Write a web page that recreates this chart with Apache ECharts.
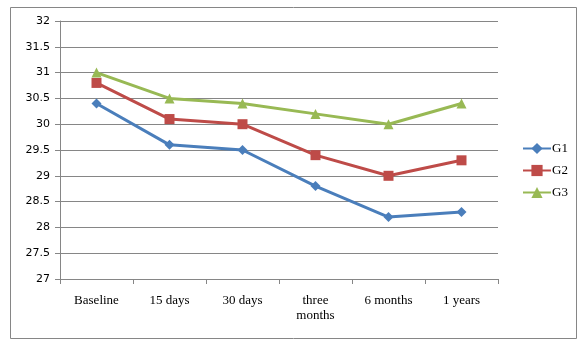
<!DOCTYPE html>
<html><head><meta charset="utf-8">
<script src="https://cdn.jsdelivr.net/npm/echarts@6/dist/echarts.min.js"></script>
<style>html,body{margin:0;padding:0;background:#fff}#c{width:588px;height:345px}</style>
</head><body><div id="c"></div>
<script>
var categories = ['Baseline', '15 days', '30 days', 'three\nmonths', '6 months', '1 years'];
var g1 = [30.4, 29.6, 29.5, 28.8, 28.2, 28.3];
var g2 = [30.8, 30.1, 30.0, 29.4, 29.0, 29.3];
var g3 = [31.0, 30.5, 30.4, 30.2, 30.0, 30.4];
var seriesNames = ['G1', 'G2', 'G3'];

var chart = echarts.init(document.getElementById('c'), null, {renderer: 'canvas'});
function mk(name, data, color, symbol, size) {
  return {name: name, type: 'line', data: data, symbol: symbol, symbolSize: size,
    lineStyle: {color: color, width: 3}, itemStyle: {color: color}, animation: false};
}
chart.setOption({
  animation: false,
  graphic: [{type: 'rect', shape: {x: 10.5, y: 7.5, width: 566, height: 331},
    style: {fill: 'none', stroke: '#868686', lineWidth: 1}}],
  grid: {left: 60, right: 90, top: 21, bottom: 66},
  legend: {orient: 'vertical', left: 517, top: 137, itemGap: 9, itemWidth: 28, itemHeight: 14,
    data: seriesNames,
    textStyle: {fontFamily: 'Liberation Serif', fontSize: 13, color: '#000', padding: [0,0,0,-4]}},
  xAxis: {type: 'category', data: categories, boundaryGap: true,
    axisLine: {lineStyle: {color: '#868686'}},
    axisTick: {show: true, length: 5, lineStyle: {color: '#868686'}},
    axisLabel: {fontFamily: 'Liberation Serif', fontSize: 13, color: '#000', margin: 14, lineHeight: 15}},
  yAxis: {type: 'value', min: 27, max: 32, interval: 0.5,
    axisLine: {show: true, lineStyle: {color: '#868686'}},
    axisTick: {show: true, length: 5, lineStyle: {color: '#868686'}},
    splitLine: {lineStyle: {color: '#868686'}},
    axisLabel: {fontFamily: 'DejaVu Sans', fontSize: 11, color: '#000', margin: 10}},
  series: [
    mk(seriesNames[0], g1, '#4A7EBB', 'diamond', 10),
    mk(seriesNames[1], g2, '#BE4B48', 'rect', 10),
    mk(seriesNames[2], g3, '#98B954', 'triangle', 10)
  ]
});
</script></body></html>
